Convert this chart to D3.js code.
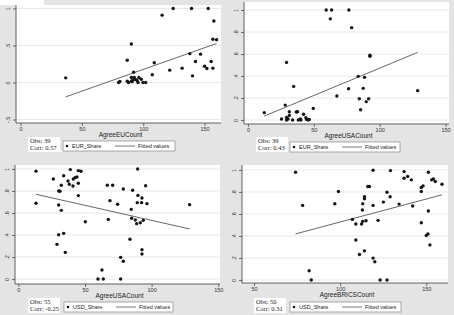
<!DOCTYPE html>
<html>
<head>
<meta charset="utf-8">
<script src="https://cdn.jsdelivr.net/npm/d3@7"></script>
<style>
  html, body { margin: 0; padding: 0; background: #e4e4e4; }
  svg { display: block; }
</style>
</head>
<body>
<script>
// ---- data ----
const eurEuX = [36.8, 115.4, 124.4, 139.4, 153, 157.6, 156.8, 159.8, 90.3, 87, 109, 138, 146.7, 142.6, 155.4,
  121.6, 131.7, 150, 151.9, 156.8, 140.2, 107.4, 92.2, 90.3, 92.7, 93.5, 91.6, 87, 90.8, 96.5, 98.4, 95.7,
  99.8, 102, 79.9, 81, 88, 94.9, 90.3];
const eurEuY = [0.063, 0.91, 1, 1, 1, 0.83, 0.585, 0.577, 0.52, 0.30, 0.266, 0.39, 0.383, 0.284, 0.284,
  0.167, 0.194, 0.22, 0.19, 0.194, 0.09, 0.104, 0.14, 0.068, 0.068, 0.045, 0.03, 0.018, 0.009, 0.068, 0.045, 0,
  0, 0, 0, 0.014, 0, 0.03, 0.018];
const fitEurEuY = [-0.194, 0.527];

const eurUsaX = [12.4, 59.4, 63.5, 76.6, 62.5, 78.7, 29.3, 92.6, 92.6, 34.7, 83.7, 88.5, 76.4, 87.5, 67.5,
  84.5, 91.6, 89.8, 85.5, 128.8, 28.3, 49.6, 31.4, 31.4, 36.7, 37.6, 42.2, 25.5, 29.3, 30.4, 33.9, 38.2,
  39.7, 44, 44.5, 46.5, 45.8, 29.3, 40.2];
const eurUsaY = [0.067, 1, 1, 1, 0.92, 0.84, 0.524, 0.59, 0.58, 0.306, 0.397, 0.388, 0.285, 0.288, 0.218,
  0.194, 0.194, 0.167, 0.094, 0.267, 0.136, 0.106, 0.076, 0.042, 0.073, 0.076, 0.052, 0.009, 0.024, 0.009, 0, 0,
  0.009, 0.021, 0.006, 0.006, 0, 0, 0];
const fitEurUsaY = [0.036, 0.615];

const usdUsaX = [13.25, 13.25, 26.25, 34, 39, 45, 47, 37.25, 41.25, 42.5, 44, 38.25, 41, 32.25, 45, 30.25,
  31.25, 45, 30.25, 32.25, 50.25, 30.25, 34, 29, 35.25, 66.75, 70.75, 68.75, 74.5, 78.75, 89.5, 85.75, 95.5,
  89.75, 92.75, 89.25, 92.5, 96.5, 128.5, 84.75, 67.5, 85, 87.75, 88.75, 91.5, 93.75, 83.75, 92.75, 92.75,
  76.75, 78.75, 62.75, 59.75, 63.75, 76.75];
const usdUsaY = [0.98, 0.688, 0.909, 0.939, 0.994, 0.985, 0.979, 0.891, 0.909, 0.921, 0.927, 0.861, 0.845,
  0.852, 0.87, 0.8, 0.797, 0.758, 0.673, 0.624, 0.521, 0.403, 0.415, 0.315, 0.242, 0.852, 0.852, 0.712, 0.679,
  0.818, 1, 0.806, 0.848, 0.76, 0.736, 0.694, 0.694, 0.685, 0.676, 0.633, 0.542, 0.552, 0.536, 0.503, 0.512,
  0.533, 0.361, 0.267, 0.227, 0.197, 0.161, 0.082, 0, 0, 0];
const fitUsdUsaY = [0.77, 0.455];

const usdBricsX = [74.1, 78.2, 82, 83.2, 96.9, 99, 107.1, 109.1, 112.4, 109.1, 111.2, 113.1, 115, 112.9,
  113.1, 114.1, 114.1, 114.1, 116, 117, 119.1, 119.1, 119.1, 120.1, 122, 123.2, 125.1, 127.2, 127.2, 129.2,
  129, 134.2, 137.1, 137.1, 139.2, 141.3, 142.1, 147.1, 148.1, 147.1, 147.1, 150, 151, 152.1, 151.2, 151.2,
  153.1, 154.1, 155.2, 159.1];
const usdBricsY = [0.979, 0.678, 0.084, 0, 0.693, 0.804, 0.551, 0.509, 0.509, 0.364, 0.232, 0.533, 0.539,
  0.636, 0.693, 0.756, 0.738, 0.265, 0.849, 0.849, 0.997, 0.678, 0.199, 0.166, 0.542, 0, 0.708, 0.798, 0,
  0.994, 0.756, 0.69, 0.985, 0.925, 0.94, 0.91, 0.672, 0.84, 0.855, 0.804, 0.521, 0.404, 0.419, 0.319, 0.627,
  0.979, 0.91, 0.919, 0.895, 0.87];
const fitUsdBricsY = [0.419, 0.774];

const xTicks150 = [0, 50, 100, 150];
const xTicksBrics = [50, 100, 150];
const yTicksHalf = [-0.5, 0, 0.5, 1];
const yTicksFifth = [0, 0.2, 0.4, 0.6, 0.8, 1];

// ---- panels ----
const panels = [
  { xs: eurEuX, ys: eurEuY, fit: fitEurEuY, xTitle: "AgreeEUCount", series: "EUR_Share",
    obs: "Obs: 39", corr: "Corr: 0.57", xTicks: xTicks150, yTicks: yTicksHalf,
    box: {l: 16, r: 221, t: 5, b: 123}, xDom: [-3.7, 163.4], yDom: [-0.547, 1.047],
    stat: {x: 28, y: 137}, leg: {x: 63, y: 141, w: 112} },
  { xs: eurUsaX, ys: eurUsaY, fit: fitEurUsaY, xTitle: "AgreeUSACount", series: "EUR_Share",
    obs: "Obs: 39", corr: "Corr: 0.43", xTicks: xTicks150, yTicks: yTicksFifth,
    box: {l: 244, r: 449, t: 2, b: 124}, xDom: [-3.0, 152.6], yDom: [-0.036, 1.073],
    stat: {x: 256, y: 137}, leg: {x: 290, y: 142, w: 110} },
  { xs: usdUsaX, ys: usdUsaY, fit: fitUsdUsaY, xTitle: "AgreeUSACount", series: "USD_Share",
    obs: "Obs: 55", corr: "Corr: -0.25", xTicks: xTicks150, yTicks: yTicksFifth,
    box: {l: 15, r: 220, t: 165, b: 284}, xDom: [-2.5, 151.3], yDom: [-0.045, 1.036],
    stat: {x: 28, y: 298}, leg: {x: 64, y: 302, w: 109} },
  { xs: usdBricsX, ys: usdBricsY, fit: fitUsdBricsY, xTitle: "AgreeBRICSCount", series: "USD_Share",
    obs: "Obs: 50", corr: "Corr: 0.31", xTicks: xTicksBrics, yTicks: yTicksFifth,
    box: {l: 242, r: 448, t: 165, b: 283}, xDom: [43.0, 162.6], yDom: [-0.027, 1.045],
    stat: {x: 254, y: 298}, leg: {x: 290, y: 302, w: 111} }
];

const W = 454, H = 315;
const sans = '"Liberation Sans", Arial, sans-serif';
const serif = '"Liberation Serif", "Times New Roman", serif';
const axisColor = "#3a3a3a";
const fmt = (d) => d === 0 ? "0" : String(d).replace("0.", ".");

const svg = d3.select("body").append("svg")
  .attr("width", W)
  .attr("height", H);

svg.append("rect").attr("width", W).attr("height", H).attr("fill", "#e4e4e4");
// white scraps left from the scan
svg.append("rect").attr("x", 0).attr("y", 0).attr("width", 44).attr("height", 5).attr("fill", "#fff");
svg.append("rect").attr("x", 30).attr("y", 150).attr("width", 33).attr("height", 2).attr("fill", "#fff");

function drawPanel(p) {
  const g = svg.append("g");
  const x = d3.scaleLinear().domain(p.xDom).range([p.box.l, p.box.r]);
  const y = d3.scaleLinear().domain(p.yDom).range([p.box.b, p.box.t]);

  // plot region
  g.append("rect")
    .attr("x", p.box.l).attr("y", p.box.t)
    .attr("width", p.box.r - p.box.l).attr("height", p.box.b - p.box.t)
    .attr("fill", "#fff");

  // horizontal grid
  g.selectAll("line.grid").data(p.yTicks).enter().append("line")
    .attr("class", "grid")
    .attr("x1", p.box.l).attr("x2", p.box.r)
    .attr("y1", (d) => y(d)).attr("y2", (d) => y(d))
    .attr("stroke", "#e2e2e2").attr("stroke-width", 0.8);

  // y axis
  const yAxis = d3.axisLeft(y).tickValues(p.yTicks).tickSize(3).tickFormat(fmt);
  const ya = g.append("g")
    .attr("transform", "translate(" + p.box.l + ",0)")
    .call(yAxis);
  ya.select(".domain").attr("stroke", axisColor).attr("stroke-width", 0.8)
    .attr("d", "M0," + p.box.t + "V" + p.box.b);
  ya.selectAll(".tick line").attr("stroke", axisColor).attr("stroke-width", 0.7);
  ya.selectAll(".tick text")
    .attr("x", null).attr("dy", null)
    .attr("transform", "translate(-6,0) rotate(-90)")
    .attr("text-anchor", "middle")
    .style("font-family", sans).style("font-size", "5.5px").attr("fill", "#333");

  // x axis
  const xAxis = d3.axisBottom(x).tickValues(p.xTicks).tickSize(3).tickFormat((d) => d);
  const xa = g.append("g")
    .attr("transform", "translate(0," + p.box.b + ")")
    .call(xAxis);
  xa.select(".domain").attr("stroke", axisColor).attr("stroke-width", 0.8)
    .attr("d", "M" + p.box.l + ",0H" + p.box.r);
  xa.selectAll(".tick line").attr("stroke", axisColor).attr("stroke-width", 0.7);
  xa.selectAll(".tick text")
    .attr("y", 4).attr("dy", "0.71em")
    .style("font-family", sans).style("font-size", "5.5px").attr("fill", "#333");

  g.append("text")
    .attr("x", (p.box.l + p.box.r) / 2 + 2).attr("y", p.box.b + 14)
    .attr("text-anchor", "middle")
    .style("font-family", sans).style("font-size", "6.5px").attr("fill", "#222")
    .text(p.xTitle);

  // fitted line over the data range
  const ext = d3.extent(p.xs);
  g.append("line")
    .attr("x1", x(ext[0])).attr("y1", y(p.fit[0]))
    .attr("x2", x(ext[1])).attr("y2", y(p.fit[1]))
    .attr("stroke", "#555").attr("stroke-width", 0.9);

  // points
  g.selectAll("circle.pt").data(p.xs.map((v, i) => [v, p.ys[i]])).enter().append("circle")
    .attr("class", "pt")
    .attr("cx", (d) => x(d[0])).attr("cy", (d) => y(d[1]))
    .attr("r", 1.7).attr("fill", "#151515");

  // obs / corr box
  g.append("rect")
    .attr("x", p.stat.x).attr("y", p.stat.y).attr("width", 32).attr("height", 15)
    .attr("fill", "#fff");
  [p.obs, p.corr].forEach((t, i) => {
    g.append("text")
      .attr("x", p.stat.x + 2).attr("y", p.stat.y + 5.5 + i * 7.5)
      .style("font-family", serif).style("font-size", "6.5px").attr("fill", "#222")
      .text(t);
  });

  // legend
  const lg = g.append("g").attr("transform", "translate(" + p.leg.x + "," + p.leg.y + ")");
  lg.append("rect").attr("width", p.leg.w).attr("height", 10)
    .attr("fill", "#fff").attr("stroke", "#777").attr("stroke-width", 0.6);
  lg.append("circle").attr("cx", 4).attr("cy", 5).attr("r", 1.3).attr("fill", "#151515");
  lg.append("text").attr("x", 9).attr("y", 7)
    .style("font-family", sans).style("font-size", "5.5px").attr("fill", "#222")
    .text(p.series);
  lg.append("line").attr("x1", 52).attr("x2", 72).attr("y1", 5).attr("y2", 5)
    .attr("stroke", "#555").attr("stroke-width", 0.8);
  lg.append("text").attr("x", 75).attr("y", 7)
    .style("font-family", sans).style("font-size", "5.5px").attr("fill", "#222")
    .text("Fitted values");
}

panels.forEach(drawPanel);
</script>
</body>
</html>
